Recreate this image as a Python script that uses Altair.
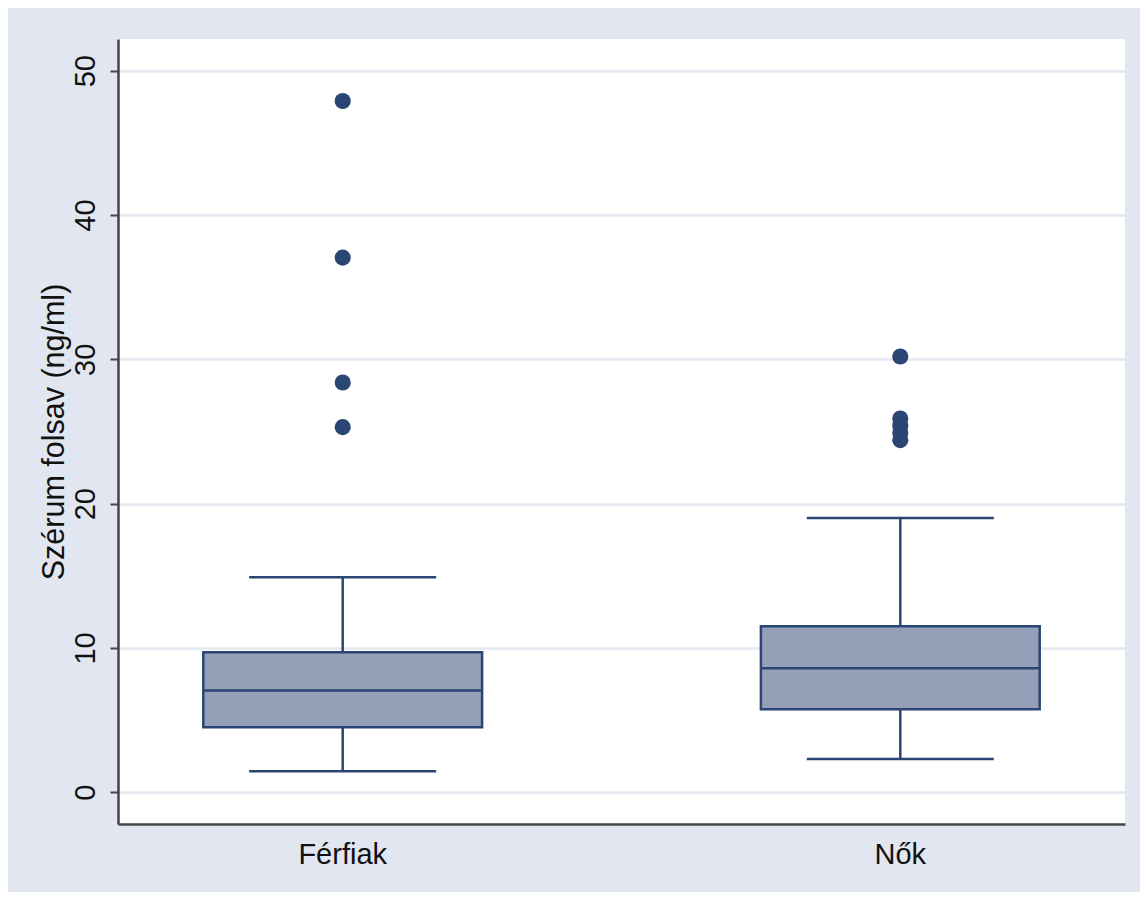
import altair as alt
import pandas as pd

# ---- data ----
groups = ["Férfiak", "Nők"]
whisker_low = [1.45, 2.3]
q1 = [4.5, 5.75]
median = [7.05, 8.6]
q3 = [9.7, 11.5]
whisker_high = [14.9, 19.0]

outlier_group = ["Férfiak", "Férfiak", "Férfiak", "Férfiak",
                 "Nők", "Nők", "Nők", "Nők", "Nők"]
outlier_value = [47.9, 37.05, 28.4, 25.3,
                 30.2, 25.9, 25.4, 24.9, 24.4]

y_ticks = [0, 10, 20, 30, 40, 50]

stats = pd.DataFrame({
    "group": groups,
    "lo": whisker_low,
    "q1": q1,
    "med": median,
    "q3": q3,
    "hi": whisker_high,
})
outl = pd.DataFrame({"group": outlier_group, "value": outlier_value})

FONT = "Liberation Sans"
NAVY = "#2b4574"
FILL = "#95a0b8"
BG = "#e1e6f0"

x_enc = alt.X(
    "group:N",
    sort=groups,
    title=None,
    scale=alt.Scale(paddingInner=0.5, paddingOuter=0.153),
    axis=alt.Axis(
        labelAngle=0, labelFontSize=29, labelFont=FONT, labelColor="#111111",
        ticks=False, labelPadding=16, domainColor="#444444", domainWidth=2.5,
        grid=False,
    ),
)

y_scale = alt.Scale(domain=[-2.2, 52.2], nice=False, zero=False)
y_axis = alt.Axis(
    values=y_ticks, title="Szérum folsav (ng/ml)", titleFont=FONT,
    titleFontSize=30.5, titleFontWeight="normal", titleColor="#111111",
    titlePadding=2,
    labelFont=FONT, labelFontSize=29, labelColor="#111111", labelAngle=-90,
    labelAlign="center", labelBaseline="bottom", labelPadding=10,
    tickSize=8, tickColor="#444444", tickWidth=2,
    domainColor="#444444", domainWidth=2.5,
    grid=True, gridColor="#e3e7f0", gridWidth=2.5,
)

base = alt.Chart(stats)

whisker = base.mark_rule(color=NAVY, strokeWidth=2.5).encode(
    x=x_enc,
    y=alt.Y("lo:Q", scale=y_scale, axis=y_axis),
    y2="hi:Q",
)

box = base.mark_bar(
    width=alt.RelativeBandSize(1), color=FILL, stroke=NAVY, strokeWidth=2.5
).encode(x=x_enc, y=alt.Y("q1:Q", scale=y_scale, axis=y_axis), y2="q3:Q")

med = base.mark_tick(size=279, thickness=2.5, color=NAVY, opacity=1).encode(
    x=x_enc, y=alt.Y("med:Q", scale=y_scale, axis=y_axis)
)

cap_lo = base.mark_tick(size=187, thickness=2.5, color=NAVY, opacity=1).encode(
    x=x_enc, y=alt.Y("lo:Q", scale=y_scale, axis=y_axis)
)
cap_hi = base.mark_tick(size=187, thickness=2.5, color=NAVY, opacity=1).encode(
    x=x_enc, y=alt.Y("hi:Q", scale=y_scale, axis=y_axis)
)

points = alt.Chart(outl).mark_circle(size=260, color=NAVY, opacity=1).encode(
    x=x_enc, y=alt.Y("value:Q", scale=y_scale, axis=y_axis)
)

chart = (
    alt.layer(whisker, box, med, cap_lo, cap_hi, points)
    .properties(
        width=1007,
        height=785,
        padding={"left": 110, "top": 31, "right": 15, "bottom": 68},
        autosize=alt.AutoSizeParams(type="none"),
        background=BG,
    )
    .configure_view(stroke=None, fill="white")
)

chart.save("out.html", embed_options={"renderer": "svg", "actions": False})
